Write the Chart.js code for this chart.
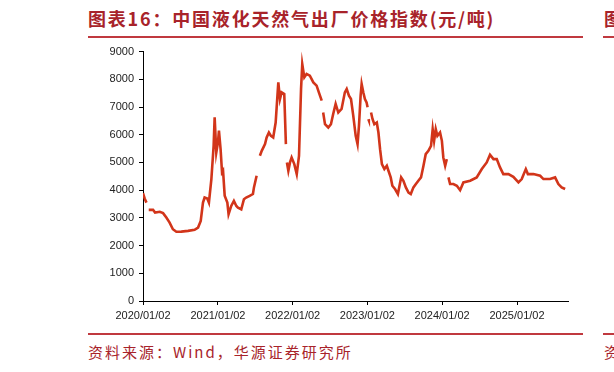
<!DOCTYPE html>
<html>
<head>
<meta charset="utf-8">
<script src="https://cdn.jsdelivr.net/npm/chart.js@4.4.1/dist/chart.umd.min.js"></script>
<style>
  html,body{margin:0;padding:0;background:#fff;width:614px;height:372px;overflow:hidden;}
  #wrap{position:relative;width:614px;height:372px;}
  .title{position:absolute;left:88px;top:6px;font-family:"Noto Sans CJK SC";font-weight:bold;font-size:18px;letter-spacing:1.8px;color:#a8232a;white-space:nowrap;line-height:24px;}
  .rule{position:absolute;height:2px;background:#c0393f;}
  .src{position:absolute;left:88px;top:341px;font-family:"Noto Sans CJK SC";font-size:15px;letter-spacing:2px;color:#a8232a;white-space:nowrap;line-height:22px;}
  .cut{position:absolute;left:604px;white-space:nowrap;font-family:"Noto Sans CJK SC";color:#a8232a;}
  #cv{position:absolute;left:0;top:40px;}
</style>
</head>
<body>
<div id="wrap">
  <div class="title">图表16：中国液化天然气出厂价格指数(元/吨)</div>
  <div class="rule" style="left:88px;top:36px;width:495px;"></div>
  <div class="rule" style="left:603px;top:36px;width:11px;"></div>
  <div class="cut" style="top:6px;font-size:18px;font-weight:bold;line-height:24px;">图</div>
  <div class="rule" style="left:88px;top:333px;width:495px;"></div>
  <div class="rule" style="left:603px;top:333px;width:11px;"></div>
  <div class="src">资料来源：Wind，华源证券研究所</div>
  <div class="cut" style="top:341px;font-size:15px;line-height:22px;">资</div>
  <canvas id="cv" width="614" height="290"></canvas>
</div>
<script>
const dates = [
 "2020-01-02","2020-01-10","2020-01-19",null,"2020-01-30","2020-02-20","2020-03-01","2020-03-24","2020-04-09","2020-04-25",
 "2020-05-11","2020-05-27","2020-06-13","2020-07-07","2020-08-09","2020-09-10","2020-09-27","2020-10-10","2020-10-21","2020-10-29",
 "2020-11-11","2020-11-19","2020-12-01","2020-12-12","2020-12-17","2020-12-25","2021-01-02","2021-01-07","2021-01-15","2021-01-22",
 "2021-01-27","2021-02-04","2021-02-17","2021-02-23","2021-03-08","2021-03-21","2021-04-02","2021-04-10","2021-04-26","2021-05-09",
 "2021-05-20","2021-06-06","2021-06-22","2021-06-27","2021-07-10",null,"2021-07-26","2021-08-04","2021-08-20","2021-08-28",
 "2021-09-08","2021-09-18","2021-09-29","2021-10-11","2021-10-24","2021-11-01","2021-11-09","2021-11-22","2021-11-30",null,
 "2021-12-05","2021-12-12","2021-12-20","2021-12-28","2022-01-10","2022-01-22","2022-02-02","2022-02-12","2022-02-18","2022-02-28",
 "2022-03-11","2022-03-27","2022-04-13","2022-04-29","2022-05-10","2022-05-24",null,"2022-05-31","2022-06-09","2022-06-25",
 "2022-07-08","2022-07-19","2022-07-31","2022-08-13","2022-08-29","2022-09-14","2022-09-23","2022-10-04","2022-10-14","2022-10-25",
 "2022-11-06","2022-11-15","2022-11-22","2022-11-30","2022-12-05","2022-12-13","2022-12-21","2022-12-29","2023-01-03",null,
 "2023-01-07","2023-01-09",null,"2023-01-20","2023-01-27","2023-02-05","2023-02-17","2023-02-25","2023-03-05","2023-03-14",
 "2023-03-26","2023-04-07","2023-04-15","2023-04-26","2023-05-04","2023-05-17","2023-05-31","2023-06-08","2023-06-16","2023-06-27",
 "2023-07-09","2023-07-22","2023-08-02","2023-08-15","2023-08-27","2023-09-08","2023-09-21","2023-10-03","2023-10-14","2023-10-27",
 "2023-11-09","2023-11-17","2023-11-24","2023-12-02","2023-12-10","2023-12-23","2024-01-01","2024-01-08","2024-01-17","2024-01-25",
 null,"2024-02-02","2024-02-10","2024-02-26","2024-03-14","2024-03-30","2024-04-15","2024-05-18","2024-06-19","2024-07-14",
 "2024-08-07","2024-08-23","2024-09-09","2024-09-25","2024-10-11","2024-10-27","2024-11-21","2024-12-15","2025-01-09","2025-01-25",
 "2025-02-14","2025-02-24","2025-03-23","2025-04-25","2025-05-11","2025-06-12","2025-07-07","2025-07-23","2025-08-08","2025-08-25"
];
const prices = [
 3890,3700,3550,null,3290,3290,3190,3220,3170,3010,
 2830,2590,2500,2505,2530,2570,2650,2890,3550,3735,
 3700,3550,4400,5600,6625,5360,5720,6150,5480,4640,
 4700,3800,3550,3130,3430,3610,3430,3370,3310,3675,
 3735,3795,3860,4100,4520,null,5240,5420,5660,5900,
 6080,5960,5900,6440,7890,7290,7530,7470,5660,null,
 5000,4700,5000,5180,4940,4580,5240,7650,8550,8070,
 8190,8130,7890,7770,7530,7230,null,6800,6380,6260,
 6380,6745,7110,6800,6930,7530,7650,7410,7290,6690,
 5960,5660,6330,7410,7830,7530,7290,7170,6990,null,
 6560,6520,null,6800,6570,6380,6440,6080,5480,4940,
 4760,4880,4700,4460,4160,4040,3860,4160,4460,4340,
 4100,3910,3860,4100,4220,4340,4460,4880,5300,5420,
 5600,6200,5780,6200,5960,6080,5780,5180,4880,5120,
 null,4460,4220,4220,4160,4000,4280,4340,4460,4760,
 5000,5280,5120,5120,4820,4580,4580,4480,4280,4400,
 4760,4580,4580,4520,4400,4400,4460,4220,4100,4040
];
const tickDates = ["2020-01-02","2021-01-02","2022-01-02","2023-01-02","2024-01-02","2025-01-02"];
const tickLabels = ["2020/01/02","2021/01/02","2022/01/02","2023/01/02","2024/01/02","2025/01/02"];
const yTicks = [0,1000,2000,3000,4000,5000,6000,7000,8000,9000];
const axisEndDate = "2025-09-08";

const base = Date.UTC(2020,0,2);
function dayOf(s){const p=s.split('-').map(Number);return (Date.UTC(p[0],p[1]-1,p[2])-base)/86400000;}
// gap markers take a position just after the previous date
const points = [];
let lastX = 0;
for (let i=0;i<prices.length;i++){
  let x = dates[i] ? dayOf(dates[i]) : lastX + 1;
  lastX = x;
  points.push({x:x, y:prices[i]});
}
const tickDays = tickDates.map(dayOf);

const tickFont = {family:"'Liberation Sans', Arial, sans-serif", size:11};
new Chart(document.getElementById('cv'), {
  type:'line',
  data:{datasets:[{
    data:points,
    borderColor:'#d2351a',
    borderWidth:2.6,
    pointRadius:0,
    tension:0,
    spanGaps:false,
    fill:false
  }]},
  options:{
    responsive:false,
    animation:false,
    devicePixelRatio:1,
    layout:{padding:{left:0,right:46,top:11,bottom:0}},
    plugins:{legend:{display:false},tooltip:{enabled:false}},
    scales:{
      x:{
        type:'linear',
        min:0,
        max:dayOf(axisEndDate),
        afterBuildTicks:(ax)=>{ax.ticks = tickDays.map(v=>({value:v}));},
        afterFit:(ax)=>{ax.height = 29;},
        ticks:{
          autoSkip:false,
          maxRotation:0,
          padding:4,
          color:'#222',
          font:tickFont,
          callback:(v)=>{const i=tickDays.indexOf(v);return i>=0?tickLabels[i]:'';}
        },
        grid:{display:true,drawOnChartArea:false,drawTicks:true,tickLength:4,color:'#000',lineWidth:1},
        border:{display:true,color:'#000',width:1}
      },
      y:{
        type:'linear',
        min:0,
        max:9000,
        afterBuildTicks:(ax)=>{ax.ticks = yTicks.map(v=>({value:v}));},
        afterFit:(ax)=>{ax.width = 143;},
        ticks:{padding:5,color:'#222',font:tickFont,callback:(v)=>String(v)},
        grid:{display:true,drawOnChartArea:false,drawTicks:true,tickLength:4,color:'#000',lineWidth:1},
        border:{display:true,color:'#000',width:1}
      }
    }
  }
});
</script>
</body>
</html>
